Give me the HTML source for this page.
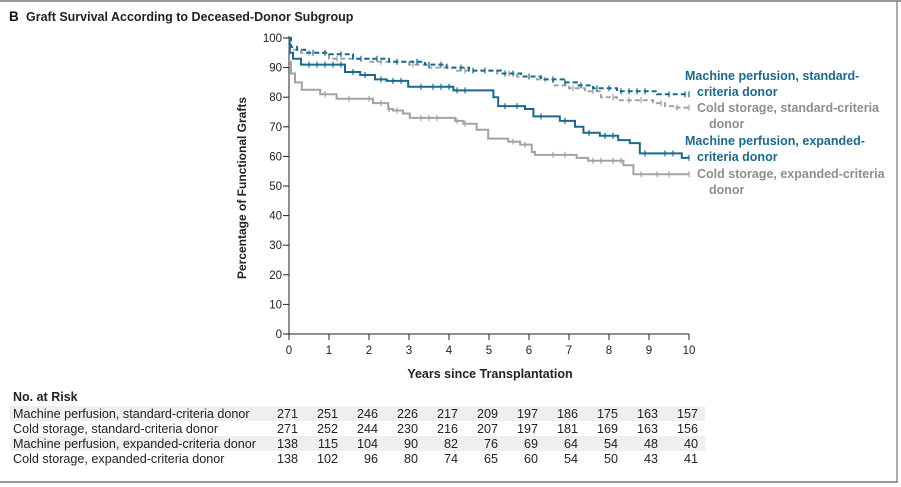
<!DOCTYPE html>
<html><head><meta charset="utf-8"><style>
body{margin:0;background:#fff;}
svg{display:block;font-family:"Liberation Sans",sans-serif;}
</style></head><body>
<svg id="s" width="901" height="487" viewBox="0 0 901 487">
<line x1="0" y1="1" x2="901" y2="1" stroke="#777" stroke-width="1.5"/>
<line x1="897" y1="1" x2="897" y2="482" stroke="#777" stroke-width="1.2"/>
<line x1="0" y1="482" x2="898" y2="482" stroke="#777" stroke-width="1.5"/>
<text x="9" y="21" font-size="13.5" font-weight="bold" fill="#111">B</text>
<text x="26" y="21" font-size="12.5" font-weight="bold" fill="#222">Graft Survival According to Deceased-Donor Subgroup</text>
<g id="ax" stroke="#222" stroke-width="1" fill="none"></g>
<g id="lab" font-size="11.5" fill="#222"></g>
<text x="490" y="378" font-size="12.5" font-weight="bold" fill="#222" text-anchor="middle">Years since Transplantation</text>
<text transform="translate(246,188) rotate(-90)" font-size="12" font-weight="bold" fill="#222" text-anchor="middle">Percentage of Functional Grafts</text>
<g id="curves" fill="none"></g>
<g font-size="12.5" font-weight="bold">
<text x="685" y="80" fill="#1b6a8c">Machine perfusion, standard-</text>
<text x="697" y="96" fill="#1b6a8c">criteria donor</text>
<text x="697" y="112" fill="#8e8e8e">Cold storage, standard-criteria</text>
<text x="709" y="128" fill="#8e8e8e">donor</text>
<text x="685" y="145" fill="#1b6a8c">Machine perfusion, expanded-</text>
<text x="697" y="161" fill="#1b6a8c">criteria donor</text>
<text x="697" y="178" fill="#8e8e8e">Cold storage, expanded-criteria</text>
<text x="709" y="194" fill="#8e8e8e">donor</text>
</g>
<text x="13" y="401" font-size="12.5" font-weight="bold" fill="#222">No. at Risk</text>
<rect x="10" y="406" width="695" height="15" fill="#efefef"/>
<rect x="10" y="436" width="695" height="15" fill="#efefef"/>
<g id="tab" font-size="12.6" fill="#222"></g>
</svg>
<script>
const NS="http://www.w3.org/2000/svg";
function X(t){return 289+40*t}function Y(v){return 334-2.96*v}
function el(p,tag,a,txt){const e=document.createElementNS(NS,tag);for(const k in a)e.setAttribute(k,a[k]);if(txt!==undefined)e.textContent=txt;document.getElementById(p).appendChild(e);return e;}
el('ax','path',{d:`M289,36V334H689`});
for(let v=0;v<=100;v+=10){el('ax','path',{d:`M283,${Y(v)}H289`});el('lab','text',{x:282,y:Y(v)+4,'text-anchor':'end'},v);}
for(let t=0;t<=10;t++){el('ax','path',{d:`M${X(t)},334V340`});el('lab','text',{x:X(t),y:354,'text-anchor':'middle'},t);}
function step(pts){let d=`M${X(pts[0][0])},${Y(pts[0][1])}`;for(let i=1;i<pts.length;i++){d+=`H${X(pts[i][0]).toFixed(1)}V${Y(pts[i][1]).toFixed(1)}`;}d+=`H${X(10)}`;return d;}
function valAt(pts,t){let v=pts[0][1];for(const p of pts){if(p[0]<=t)v=p[1];}return v;}
const mpE=[[0,100],[0.02,95],[0.1,93],[0.3,91],[1.4,88.5],[1.78,87.5],[2.15,86],[2.44,85.5],[2.98,83.5],[4.11,82.3],[5.11,80],[5.23,77],[5.9,76],[6.11,73.5],[6.77,72],[7.15,70],[7.36,68],[7.77,67],[8.23,65.5],[8.52,64.5],[8.77,61],[9.82,59.5]];
const csE=[[0,92],[0.05,88],[0.15,85],[0.32,82.5],[0.78,81],[1.19,79.5],[2.1,78],[2.48,76],[2.6,75.5],[2.85,74.5],[3.02,73],[4.15,72],[4.36,71],[4.69,69],[4.98,66],[5.48,65],[5.78,64],[6.07,61.5],[6.15,60.5],[7.19,59.5],[7.48,58.5],[8.36,57],[8.61,54]];
const mpS=[[0,100],[0.05,97],[0.2,96],[0.4,95],[1,94.5],[1.6,93],[2.5,92],[3.4,91],[3.94,90],[4.5,89],[5.3,88],[5.8,87],[6.3,86],[6.9,85],[7.2,84],[7.6,83],[8.2,82],[9.2,81]];
const csS=[[0,100],[0.02,96],[0.3,95],[1,93],[2,92],[3,91],[3.5,90],[4.2,89],[5.2,88],[5.7,87],[6.2,86],[6.6,84],[7,83],[7.4,82],[7.8,80],[8.2,79],[9.1,78],[9.4,77],[9.6,76.5]];
const blue="#1b6a8c",gray="#a3a3a3";
function draw(pts,col,dash,cens){el('curves','path',{d:step(pts),stroke:col,'stroke-width':2,'stroke-dasharray':dash||'none'});
 let d='';for(const t of cens){const v=valAt(pts,t);d+=`M${X(t).toFixed(1)},${(Y(v)-3).toFixed(1)}v6`;}el('curves','path',{d:d,stroke:col,'stroke-width':1.2});}
draw(csS,gray,"5,3",[0.5,1.2,2.3,3.1,4.4,5.5,6.4,7.1,7.6,8.1,8.5,8.8,9.3,9.7,10]);
draw(mpS,blue,"5,3",[0.6,0.9,1.3,1.8,2.2,2.7,3.2,3.5,3.8,4.3,4.6,4.9,5.4,5.6,6.0,6.6,6.9,7.3,7.7,8.0,8.3,8.5,8.7,8.9,9.5,9.9,10]);
draw(csE,gray,null,[0.9,1.5,2.0,2.3,2.5,2.7,3.3,3.5,3.7,4.2,4.4,5.6,5.9,6.6,6.9,7.6,7.8,8.1,8.3,8.8,9.2,9.5,10]);
draw(mpE,blue,null,[0.5,0.7,0.9,1.1,1.3,1.6,1.9,2.3,2.6,2.8,3.3,3.6,3.8,4.0,4.2,4.4,5.4,5.7,6.3,6.9,7.5,7.9,8.1,8.9,9.4,9.6,10]);
const rows=[["Machine perfusion, standard-criteria donor",[271,251,246,226,217,209,197,186,175,163,157]],
["Cold storage, standard-criteria donor",[271,252,244,230,216,207,197,181,169,163,156]],
["Machine perfusion, expanded-criteria donor",[138,115,104,90,82,76,69,64,54,48,40]],
["Cold storage, expanded-criteria donor",[138,102,96,80,74,65,60,54,50,43,41]]];
rows.forEach((r,i)=>{const y=418+15*i;el('tab','text',{x:13,y:y},r[0]);r[1].forEach((n,j)=>el('tab','text',{x:X(j)+9,y:y,'text-anchor':'end'},n));});
</script>
</body></html>
